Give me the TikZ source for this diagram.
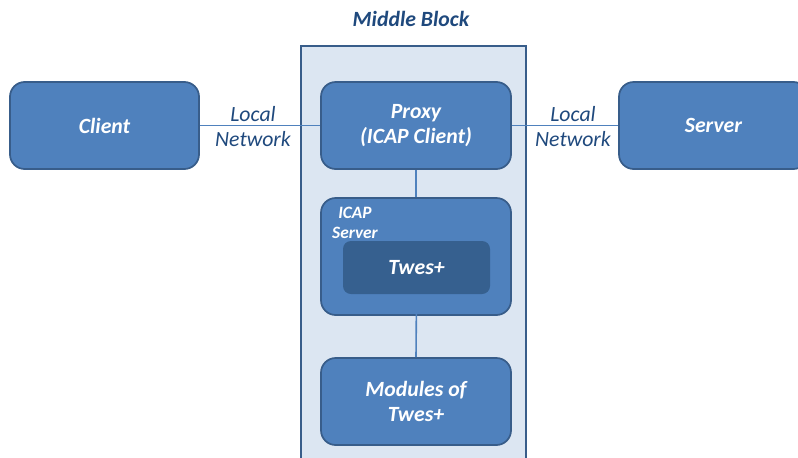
\documentclass[tikz,border=0pt]{standalone}
\usepackage{fontspec}
\setmainfont{Carlito}
\usepackage{tikz}
\usetikzlibrary{positioning}
\definecolor{boxblue}{HTML}{4F81BD}
\definecolor{edgeblue}{HTML}{385D8A}
\definecolor{darkblue}{HTML}{36608F}
\definecolor{paleblue}{HTML}{DCE6F2}
\definecolor{textblue}{HTML}{1F497D}

\begin{document}
\begin{tikzpicture}[x=0.75pt, y=-0.75pt,
  every node/.style={font=\fontsize{16.3}{18.75}\selectfont\bfseries\itshape},
  box/.style={draw=edgeblue, line width=1.3pt, fill=boxblue, rounded corners=11pt, text=white,
    minimum width=142.5pt, minimum height=65.25pt, align=center},
  link/.style={draw=boxblue, line width=1.2pt},
  netlabel/.style={text=textblue, font=\fontsize{16.3}{18.75}\selectfont\itshape, align=center}]
  \useasboundingbox (0,0) rectangle (798,457);
  \clip (0,0) rectangle (798,457);
  % middle block
  \node[draw=edgeblue, line width=1.5pt, fill=paleblue, minimum width=168.75pt, minimum height=330pt,
    anchor=north west] (mid) at (300,45) {};
  \node[text=textblue] (midtitle) at (411,19) {Middle Block};
  % outer boxes
  \node[box, minimum width=141.75pt] (client) at (104.5,125.5) {Client};
  \node[box, minimum width=141.75pt] (server) at (713.5,125.5) {Server};
  % inside middle block
  \node[box] (proxy) at (416,125.5) {Proxy\\(ICAP Client)};
  \node[box, minimum height=87.75pt] (icap) at (416,256.5) {};
  \node[text=white, font=\fontsize{13}{15}\selectfont\bfseries\itshape, align=center] (icaplbl) at (355,223) {ICAP\\Server};
  \node[box, draw=none, fill=darkblue, rounded corners=6pt, minimum width=110.25pt, minimum height=39.75pt] (twes) at (416.5,267.5) {Twes+};
  \node[box] (modules) at (416,401.5) {Modules of\\Twes+};
  % connections
  \draw[link] (client.east) -- (proxy.west);
  \draw[link] (proxy.east) -- (server.west);
  \draw[link] (proxy.south) -- (icap.north);
  \draw[link] (twes.south) -- (modules.north);
  \node[netlabel] (lnleft) at (253,127) {Local\\Network};
  \node[netlabel] (lnright) at (573,127) {Local\\Network};
\end{tikzpicture}
\end{document}
